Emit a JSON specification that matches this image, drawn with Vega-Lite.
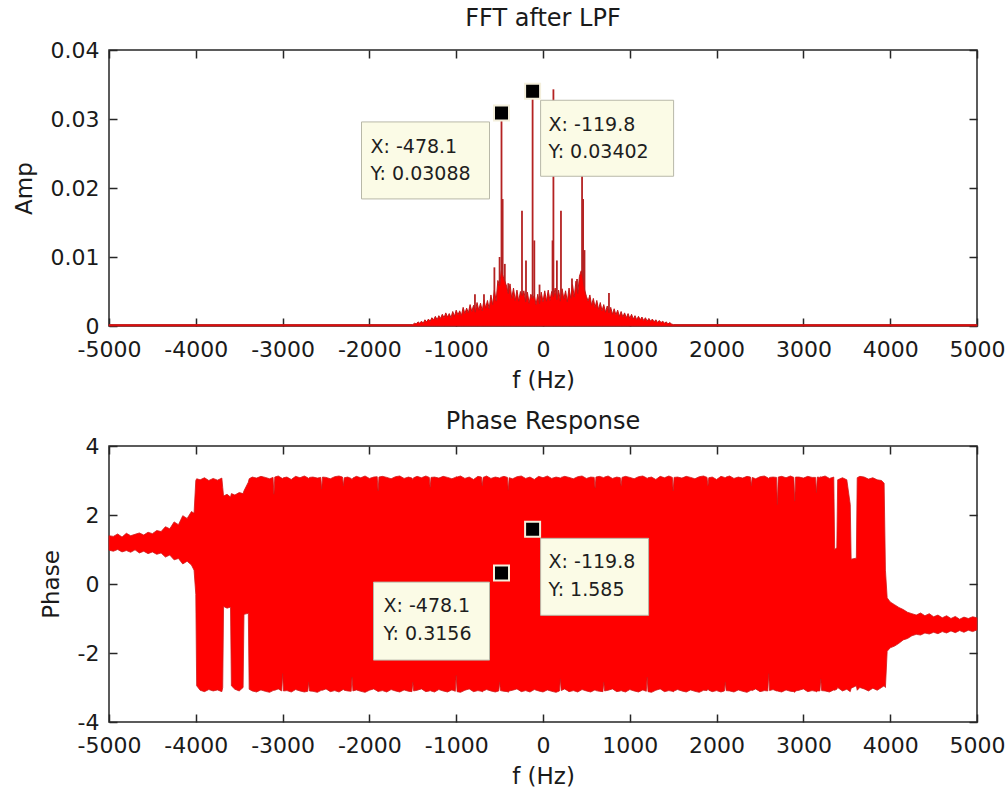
{
  "$schema": "https://vega.github.io/schema/vega-lite/v6.json",
  "padding": {"left": 12, "top": 6, "right": 4, "bottom": 0},
  "background": "white",
  "datasets": {
    "amp_env": [
      {"f": -5000, "amp": 0.0002}, {"f": -1500, "amp": 0.0002},
      {"f": -1480, "amp": 0.0004}, {"f": -1460, "amp": 0.0003}, {"f": -1440, "amp": 0.0006}, {"f": -1420, "amp": 0.0004},
      {"f": -1400, "amp": 0.0007}, {"f": -1380, "amp": 0.0004}, {"f": -1360, "amp": 0.0009}, {"f": -1340, "amp": 0.0006},
      {"f": -1320, "amp": 0.0010}, {"f": -1300, "amp": 0.0007}, {"f": -1280, "amp": 0.0012}, {"f": -1260, "amp": 0.0009},
      {"f": -1240, "amp": 0.0014}, {"f": -1220, "amp": 0.0009}, {"f": -1200, "amp": 0.0015}, {"f": -1180, "amp": 0.0011},
      {"f": -1160, "amp": 0.0017}, {"f": -1140, "amp": 0.0012}, {"f": -1120, "amp": 0.0019}, {"f": -1100, "amp": 0.0013},
      {"f": -1080, "amp": 0.0018}, {"f": -1060, "amp": 0.0012}, {"f": -1040, "amp": 0.0021}, {"f": -1020, "amp": 0.0014},
      {"f": -1000, "amp": 0.0023}, {"f": -980, "amp": 0.0016}, {"f": -960, "amp": 0.0022}, {"f": -940, "amp": 0.0015},
      {"f": -920, "amp": 0.0027}, {"f": -900, "amp": 0.0018}, {"f": -880, "amp": 0.0026}, {"f": -860, "amp": 0.0019},
      {"f": -840, "amp": 0.0031}, {"f": -820, "amp": 0.0021}, {"f": -800, "amp": 0.0030}, {"f": -780, "amp": 0.0020},
      {"f": -760, "amp": 0.0034}, {"f": -740, "amp": 0.0023}, {"f": -720, "amp": 0.0033}, {"f": -700, "amp": 0.0022},
      {"f": -680, "amp": 0.0038}, {"f": -660, "amp": 0.0026}, {"f": -640, "amp": 0.0037}, {"f": -620, "amp": 0.0025},
      {"f": -600, "amp": 0.0045}, {"f": -580, "amp": 0.0031}, {"f": -560, "amp": 0.0052}, {"f": -540, "amp": 0.0036},
      {"f": -520, "amp": 0.0066}, {"f": -500, "amp": 0.0058}, {"f": -480, "amp": 0.0080}, {"f": -460, "amp": 0.0072},
      {"f": -440, "amp": 0.0065}, {"f": -420, "amp": 0.0058}, {"f": -400, "amp": 0.0047}, {"f": -380, "amp": 0.0061},
      {"f": -360, "amp": 0.0040}, {"f": -340, "amp": 0.0055}, {"f": -320, "amp": 0.0037}, {"f": -300, "amp": 0.0052},
      {"f": -280, "amp": 0.0036}, {"f": -260, "amp": 0.0050}, {"f": -240, "amp": 0.0044}, {"f": -220, "amp": 0.0051},
      {"f": -200, "amp": 0.0035}, {"f": -180, "amp": 0.0049}, {"f": -160, "amp": 0.0033}, {"f": -140, "amp": 0.0046},
      {"f": -120, "amp": 0.0040}, {"f": -100, "amp": 0.0044}, {"f": -80, "amp": 0.0031}, {"f": -60, "amp": 0.0046},
      {"f": -40, "amp": 0.0032}, {"f": -20, "amp": 0.0049}, {"f": 0, "amp": 0.0035}, {"f": 20, "amp": 0.0051},
      {"f": 40, "amp": 0.0036}, {"f": 60, "amp": 0.0052}, {"f": 80, "amp": 0.0037}, {"f": 100, "amp": 0.0050},
      {"f": 120, "amp": 0.0042}, {"f": 140, "amp": 0.0055}, {"f": 160, "amp": 0.0038}, {"f": 180, "amp": 0.0052},
      {"f": 200, "amp": 0.0036}, {"f": 220, "amp": 0.0054}, {"f": 240, "amp": 0.0039}, {"f": 260, "amp": 0.0051},
      {"f": 280, "amp": 0.0035}, {"f": 300, "amp": 0.0055}, {"f": 320, "amp": 0.0040}, {"f": 340, "amp": 0.0060},
      {"f": 360, "amp": 0.0042}, {"f": 380, "amp": 0.0065}, {"f": 400, "amp": 0.0047}, {"f": 420, "amp": 0.0072},
      {"f": 440, "amp": 0.0080}, {"f": 460, "amp": 0.0068}, {"f": 480, "amp": 0.0052}, {"f": 500, "amp": 0.0043},
      {"f": 520, "amp": 0.0036}, {"f": 540, "amp": 0.0045}, {"f": 560, "amp": 0.0030}, {"f": 580, "amp": 0.0040},
      {"f": 600, "amp": 0.0027}, {"f": 620, "amp": 0.0037}, {"f": 640, "amp": 0.0024}, {"f": 660, "amp": 0.0034},
      {"f": 680, "amp": 0.0022}, {"f": 700, "amp": 0.0031}, {"f": 720, "amp": 0.0020}, {"f": 740, "amp": 0.0029},
      {"f": 760, "amp": 0.0019}, {"f": 780, "amp": 0.0027}, {"f": 800, "amp": 0.0017}, {"f": 820, "amp": 0.0025},
      {"f": 840, "amp": 0.0016}, {"f": 860, "amp": 0.0023}, {"f": 880, "amp": 0.0014}, {"f": 900, "amp": 0.0021},
      {"f": 920, "amp": 0.0013}, {"f": 940, "amp": 0.0019}, {"f": 960, "amp": 0.0012}, {"f": 980, "amp": 0.0018},
      {"f": 1000, "amp": 0.0011}, {"f": 1020, "amp": 0.0017}, {"f": 1040, "amp": 0.0010}, {"f": 1060, "amp": 0.0015},
      {"f": 1080, "amp": 0.0009}, {"f": 1100, "amp": 0.0014}, {"f": 1120, "amp": 0.0009}, {"f": 1140, "amp": 0.0013},
      {"f": 1160, "amp": 0.0008}, {"f": 1180, "amp": 0.0012}, {"f": 1200, "amp": 0.0007}, {"f": 1220, "amp": 0.0011},
      {"f": 1240, "amp": 0.0007}, {"f": 1260, "amp": 0.0010}, {"f": 1280, "amp": 0.0006}, {"f": 1300, "amp": 0.0009},
      {"f": 1320, "amp": 0.0005}, {"f": 1340, "amp": 0.0008}, {"f": 1360, "amp": 0.0005}, {"f": 1380, "amp": 0.0007},
      {"f": 1400, "amp": 0.0004}, {"f": 1420, "amp": 0.0006}, {"f": 1440, "amp": 0.0003}, {"f": 1460, "amp": 0.0005},
      {"f": 1480, "amp": 0.0003}, {"f": 1500, "amp": 0.0002}, {"f": 5000, "amp": 0.0002}
    ],
    "amp_peaks": [
      {"f": -784, "amp": 0.0046}, {"f": -680, "amp": 0.0046}, {"f": -560, "amp": 0.0085},
      {"f": -500, "amp": 0.0100}, {"f": -478.1, "amp": 0.03088}, {"f": -465, "amp": 0.0184},
      {"f": -440, "amp": 0.0090}, {"f": -400, "amp": 0.0062}, {"f": -242, "amp": 0.0167},
      {"f": -196, "amp": 0.0095}, {"f": -119.8, "amp": 0.03402}, {"f": -100, "amp": 0.0124},
      {"f": -40, "amp": 0.0060}, {"f": 110, "amp": 0.0124}, {"f": 120, "amp": 0.0343},
      {"f": 160, "amp": 0.0095}, {"f": 207, "amp": 0.0167}, {"f": 334, "amp": 0.0069},
      {"f": 392, "amp": 0.0068}, {"f": 450, "amp": 0.0225}, {"f": 462, "amp": 0.0184},
      {"f": 478, "amp": 0.0110}, {"f": 760, "amp": 0.0048}
    ],
    "amp_tips": [
      {"f": -478.1, "amp": 0.03088, "label": ["X: -478.1", "Y: 0.03088"]},
      {"f": -119.8, "amp": 0.03402, "label": ["X: -119.8", "Y: 0.03402"]}
    ],
    "phase": [
      {"f": -5000, "lo": 0.98, "hi": 1.40}, {"f": -4950, "lo": 0.95, "hi": 1.38}, {"f": -4900, "lo": 1.00, "hi": 1.45},
      {"f": -4850, "lo": 0.93, "hi": 1.36}, {"f": -4800, "lo": 0.97, "hi": 1.47}, {"f": -4750, "lo": 0.92, "hi": 1.40},
      {"f": -4700, "lo": 0.99, "hi": 1.44}, {"f": -4650, "lo": 0.90, "hi": 1.48}, {"f": -4600, "lo": 0.95, "hi": 1.42},
      {"f": -4550, "lo": 0.88, "hi": 1.50}, {"f": -4500, "lo": 0.93, "hi": 1.46}, {"f": -4450, "lo": 0.86, "hi": 1.55},
      {"f": -4400, "lo": 0.90, "hi": 1.52}, {"f": -4350, "lo": 0.78, "hi": 1.66}, {"f": -4300, "lo": 0.84, "hi": 1.60},
      {"f": -4250, "lo": 0.70, "hi": 1.80}, {"f": -4200, "lo": 0.74, "hi": 1.72}, {"f": -4150, "lo": 0.58, "hi": 1.98},
      {"f": -4100, "lo": 0.66, "hi": 1.90}, {"f": -4050, "lo": 0.55, "hi": 2.10}, {"f": -4020, "lo": 0.40, "hi": 2.05},
      {"f": -4000, "lo": -0.30, "hi": 3.00}, {"f": -3990, "lo": -2.95, "hi": 3.05}, {"f": -3950, "lo": -3.08, "hi": 3.02},
      {"f": -3900, "lo": -3.12, "hi": 3.08}, {"f": -3850, "lo": -3.06, "hi": 3.00}, {"f": -3800, "lo": -3.10, "hi": 3.06},
      {"f": -3750, "lo": -3.07, "hi": 3.01}, {"f": -3700, "lo": -3.12, "hi": 3.07}, {"f": -3690, "lo": -3.00, "hi": 2.80},
      {"f": -3680, "lo": -0.65, "hi": 2.55}, {"f": -3640, "lo": -0.70, "hi": 2.60}, {"f": -3600, "lo": -0.67, "hi": 2.52},
      {"f": -3590, "lo": -2.95, "hi": 2.62}, {"f": -3550, "lo": -3.05, "hi": 2.58}, {"f": -3500, "lo": -3.10, "hi": 2.65},
      {"f": -3455, "lo": -3.00, "hi": 2.62}, {"f": -3445, "lo": -0.88, "hi": 2.70}, {"f": -3395, "lo": -0.85, "hi": 2.95},
      {"f": -3385, "lo": -3.05, "hi": 3.05},
      {"f": -3350, "lo": -3.10, "hi": 3.10}, {"f": -3300, "lo": -3.13, "hi": 3.07}, {"f": -3250, "lo": -3.07, "hi": 3.12},
      {"f": -3200, "lo": -3.11, "hi": 3.09}, {"f": -3150, "lo": -3.14, "hi": 3.05}, {"f": -3110, "lo": -3.09, "hi": 3.09},
      {"f": -3100, "lo": -3.08, "hi": 2.60}, {"f": -3090, "lo": -3.08, "hi": 3.10}, {"f": -3050, "lo": -3.04, "hi": 3.13},
      {"f": -3010, "lo": -3.10, "hi": 3.07}, {"f": -3000, "lo": -2.60, "hi": 3.06}, {"f": -2990, "lo": -3.10, "hi": 3.08},
      {"f": -2950, "lo": -3.09, "hi": 3.10}, {"f": -2900, "lo": -3.13, "hi": 3.03}, {"f": -2850, "lo": -3.06, "hi": 3.12},
      {"f": -2800, "lo": -3.10, "hi": 3.08}, {"f": -2750, "lo": -3.13, "hi": 3.13}, {"f": -2710, "lo": -3.11, "hi": 3.08},
      {"f": -2700, "lo": -2.85, "hi": 3.06}, {"f": -2690, "lo": -3.10, "hi": 3.09}, {"f": -2650, "lo": -3.11, "hi": 3.10},
      {"f": -2600, "lo": -3.14, "hi": 3.07}, {"f": -2560, "lo": -3.09, "hi": 3.09}, {"f": -2550, "lo": -3.08, "hi": 2.75},
      {"f": -2540, "lo": -3.08, "hi": 3.10}, {"f": -2500, "lo": -3.04, "hi": 3.09}, {"f": -2450, "lo": -3.12, "hi": 3.05},
      {"f": -2400, "lo": -3.09, "hi": 3.11}, {"f": -2350, "lo": -3.13, "hi": 3.13}, {"f": -2310, "lo": -3.07, "hi": 3.10},
      {"f": -2300, "lo": -3.06, "hi": 2.85}, {"f": -2290, "lo": -3.08, "hi": 3.08}, {"f": -2250, "lo": -3.10, "hi": 3.10},
      {"f": -2210, "lo": -3.11, "hi": 3.06}, {"f": -2200, "lo": -2.70, "hi": 3.03}, {"f": -2190, "lo": -3.10, "hi": 3.07},
      {"f": -2150, "lo": -3.07, "hi": 3.12}, {"f": -2100, "lo": -3.11, "hi": 3.08}, {"f": -2050, "lo": -3.14, "hi": 3.13},
      {"f": -2000, "lo": -3.08, "hi": 3.06}, {"f": -1950, "lo": -3.04, "hi": 3.10}, {"f": -1910, "lo": -3.10, "hi": 3.11},
      {"f": -1900, "lo": -3.12, "hi": 2.70}, {"f": -1890, "lo": -3.11, "hi": 3.10}, {"f": -1850, "lo": -3.09, "hi": 3.12},
      {"f": -1800, "lo": -3.13, "hi": 3.09}, {"f": -1750, "lo": -3.06, "hi": 3.05}, {"f": -1700, "lo": -3.10, "hi": 3.11},
      {"f": -1650, "lo": -3.13, "hi": 3.13}, {"f": -1600, "lo": -3.07, "hi": 3.06}, {"f": -1550, "lo": -3.11, "hi": 3.10},
      {"f": -1510, "lo": -3.12, "hi": 3.07}, {"f": -1500, "lo": -2.85, "hi": 3.03}, {"f": -1490, "lo": -3.10, "hi": 3.08},
      {"f": -1450, "lo": -3.08, "hi": 3.12}, {"f": -1400, "lo": -3.04, "hi": 3.08}, {"f": -1350, "lo": -3.12, "hi": 3.13},
      {"f": -1310, "lo": -3.10, "hi": 3.09}, {"f": -1300, "lo": -3.09, "hi": 2.80}, {"f": -1290, "lo": -3.10, "hi": 3.09},
      {"f": -1250, "lo": -3.13, "hi": 3.10}, {"f": -1200, "lo": -3.06, "hi": 3.07}, {"f": -1150, "lo": -3.10, "hi": 3.12},
      {"f": -1100, "lo": -3.13, "hi": 3.09}, {"f": -1050, "lo": -3.07, "hi": 3.05}, {"f": -1010, "lo": -3.11, "hi": 3.09},
      {"f": -1000, "lo": -2.65, "hi": 3.11}, {"f": -990, "lo": -3.12, "hi": 3.10}, {"f": -950, "lo": -3.14, "hi": 3.13},
      {"f": -900, "lo": -3.08, "hi": 3.06}, {"f": -850, "lo": -3.04, "hi": 3.10}, {"f": -800, "lo": -3.12, "hi": 3.03},
      {"f": -750, "lo": -3.09, "hi": 3.12}, {"f": -710, "lo": -3.11, "hi": 3.10}, {"f": -700, "lo": -3.13, "hi": 2.85},
      {"f": -690, "lo": -3.10, "hi": 3.09}, {"f": -650, "lo": -3.06, "hi": 3.13}, {"f": -600, "lo": -3.10, "hi": 3.06},
      {"f": -550, "lo": -3.13, "hi": 3.10}, {"f": -510, "lo": -3.10, "hi": 3.08}, {"f": -500, "lo": -2.85, "hi": 3.07},
      {"f": -490, "lo": -3.09, "hi": 3.09}, {"f": -450, "lo": -3.11, "hi": 3.12}, {"f": -410, "lo": -3.12, "hi": 3.09},
      {"f": -400, "lo": -3.14, "hi": 2.72}, {"f": -390, "lo": -3.10, "hi": 3.08}, {"f": -350, "lo": -3.08, "hi": 3.05},
      {"f": -300, "lo": -3.04, "hi": 3.11}, {"f": -250, "lo": -3.12, "hi": 3.13}, {"f": -200, "lo": -3.09, "hi": 3.06},
      {"f": -150, "lo": -3.13, "hi": 3.10}, {"f": -100, "lo": -3.06, "hi": 3.03}, {"f": -50, "lo": -3.10, "hi": 3.12},
      {"f": 0, "lo": -3.13, "hi": 3.08}, {"f": 50, "lo": -3.07, "hi": 3.13}, {"f": 100, "lo": -3.11, "hi": 3.06},
      {"f": 150, "lo": -3.14, "hi": 3.10}, {"f": 190, "lo": -3.10, "hi": 3.08}, {"f": 200, "lo": -2.75, "hi": 3.07},
      {"f": 210, "lo": -3.09, "hi": 3.09}, {"f": 250, "lo": -3.04, "hi": 3.12}, {"f": 300, "lo": -3.12, "hi": 3.09},
      {"f": 350, "lo": -3.09, "hi": 3.05}, {"f": 400, "lo": -3.13, "hi": 3.11}, {"f": 450, "lo": -3.06, "hi": 3.13},
      {"f": 500, "lo": -3.10, "hi": 3.06}, {"f": 550, "lo": -3.13, "hi": 3.10}, {"f": 590, "lo": -3.08, "hi": 3.09},
      {"f": 600, "lo": -3.07, "hi": 2.78}, {"f": 610, "lo": -3.09, "hi": 3.10}, {"f": 650, "lo": -3.11, "hi": 3.12},
      {"f": 690, "lo": -3.12, "hi": 3.09}, {"f": 700, "lo": -2.85, "hi": 3.08}, {"f": 710, "lo": -3.10, "hi": 3.10},
      {"f": 750, "lo": -3.08, "hi": 3.13}, {"f": 800, "lo": -3.04, "hi": 3.06}, {"f": 850, "lo": -3.12, "hi": 3.10},
      {"f": 890, "lo": -3.10, "hi": 3.08}, {"f": 900, "lo": -3.09, "hi": 2.85}, {"f": 910, "lo": -3.10, "hi": 3.09},
      {"f": 950, "lo": -3.13, "hi": 3.12}, {"f": 1000, "lo": -3.06, "hi": 3.09}, {"f": 1050, "lo": -3.10, "hi": 3.05},
      {"f": 1100, "lo": -3.13, "hi": 3.11}, {"f": 1150, "lo": -3.07, "hi": 3.13}, {"f": 1190, "lo": -3.11, "hi": 3.08},
      {"f": 1200, "lo": -2.70, "hi": 3.06}, {"f": 1210, "lo": -3.12, "hi": 3.08}, {"f": 1250, "lo": -3.14, "hi": 3.10},
      {"f": 1300, "lo": -3.08, "hi": 3.03}, {"f": 1350, "lo": -3.04, "hi": 3.12}, {"f": 1400, "lo": -3.12, "hi": 3.08},
      {"f": 1450, "lo": -3.09, "hi": 3.13}, {"f": 1490, "lo": -3.11, "hi": 3.09}, {"f": 1500, "lo": -3.13, "hi": 2.70},
      {"f": 1510, "lo": -3.10, "hi": 3.09}, {"f": 1550, "lo": -3.06, "hi": 3.10}, {"f": 1600, "lo": -3.10, "hi": 3.07},
      {"f": 1650, "lo": -3.13, "hi": 3.12}, {"f": 1700, "lo": -3.07, "hi": 3.09}, {"f": 1750, "lo": -3.11, "hi": 3.05},
      {"f": 1800, "lo": -3.14, "hi": 3.11}, {"f": 1850, "lo": -3.08, "hi": 3.13}, {"f": 1890, "lo": -3.09, "hi": 3.09},
      {"f": 1900, "lo": -3.04, "hi": 2.85}, {"f": 1910, "lo": -3.08, "hi": 3.08}, {"f": 1950, "lo": -3.12, "hi": 3.10},
      {"f": 2000, "lo": -3.09, "hi": 3.03}, {"f": 2050, "lo": -3.13, "hi": 3.12}, {"f": 2090, "lo": -3.10, "hi": 3.09},
      {"f": 2100, "lo": -2.85, "hi": 3.08}, {"f": 2110, "lo": -3.09, "hi": 3.10}, {"f": 2150, "lo": -3.10, "hi": 3.13},
      {"f": 2200, "lo": -3.13, "hi": 3.06}, {"f": 2250, "lo": -3.07, "hi": 3.10}, {"f": 2300, "lo": -3.11, "hi": 3.07},
      {"f": 2350, "lo": -3.14, "hi": 3.12}, {"f": 2390, "lo": -3.09, "hi": 3.10}, {"f": 2400, "lo": -3.08, "hi": 2.85},
      {"f": 2410, "lo": -3.09, "hi": 3.09}, {"f": 2450, "lo": -3.04, "hi": 3.05}, {"f": 2500, "lo": -3.12, "hi": 3.11},
      {"f": 2550, "lo": -3.09, "hi": 3.13}, {"f": 2590, "lo": -3.10, "hi": 3.08}, {"f": 2600, "lo": -2.60, "hi": 3.06},
      {"f": 2610, "lo": -3.09, "hi": 3.09}, {"f": 2650, "lo": -3.06, "hi": 3.10}, {"f": 2690, "lo": -3.10, "hi": 3.09},
      {"f": 2700, "lo": -3.10, "hi": 2.30}, {"f": 2710, "lo": -3.11, "hi": 3.10}, {"f": 2750, "lo": -3.13, "hi": 3.12},
      {"f": 2800, "lo": -3.07, "hi": 3.08}, {"f": 2850, "lo": -3.11, "hi": 3.13}, {"f": 2890, "lo": -3.12, "hi": 3.09},
      {"f": 2900, "lo": -3.14, "hi": 2.40}, {"f": 2910, "lo": -3.10, "hi": 3.10}, {"f": 2950, "lo": -3.08, "hi": 3.10},
      {"f": 3000, "lo": -3.04, "hi": 3.07}, {"f": 3050, "lo": -3.12, "hi": 3.12}, {"f": 3100, "lo": -3.09, "hi": 3.09},
      {"f": 3140, "lo": -3.11, "hi": 3.09}, {"f": 3150, "lo": -3.13, "hi": 2.65}, {"f": 3160, "lo": -3.10, "hi": 3.10},
      {"f": 3190, "lo": -3.10, "hi": 3.09}, {"f": 3200, "lo": -2.75, "hi": 3.11}, {"f": 3210, "lo": -3.09, "hi": 3.10},
      {"f": 3250, "lo": -3.10, "hi": 3.13}, {"f": 3300, "lo": -3.13, "hi": 3.06}, {"f": 3350, "lo": -3.07, "hi": 3.10},
      {"f": 3360, "lo": -3.08, "hi": 1.00}, {"f": 3385, "lo": -3.05, "hi": 1.05}, {"f": 3395, "lo": -3.00, "hi": 3.02},
      {"f": 3450, "lo": -3.10, "hi": 3.08}, {"f": 3500, "lo": -3.05, "hi": 3.02}, {"f": 3540, "lo": -3.12, "hi": 2.30},
      {"f": 3550, "lo": -3.02, "hi": 0.72}, {"f": 3610, "lo": -2.95, "hi": 0.75}, {"f": 3620, "lo": -3.08, "hi": 3.08},
      {"f": 3650, "lo": -3.00, "hi": 3.12}, {"f": 3700, "lo": -3.04, "hi": 3.10}, {"f": 3750, "lo": -3.10, "hi": 3.04},
      {"f": 3800, "lo": -3.02, "hi": 3.08}, {"f": 3850, "lo": -3.08, "hi": 3.02}, {"f": 3900, "lo": -3.00, "hi": 3.00},
      {"f": 3930, "lo": -2.95, "hi": 2.92}, {"f": 3945, "lo": -3.00, "hi": 0.40}, {"f": 3965, "lo": -1.95, "hi": -0.40},
      {"f": 4000, "lo": -1.85, "hi": -0.52}, {"f": 4050, "lo": -1.80, "hi": -0.60}, {"f": 4100, "lo": -1.72, "hi": -0.68},
      {"f": 4150, "lo": -1.62, "hi": -0.74}, {"f": 4200, "lo": -1.58, "hi": -0.82}, {"f": 4250, "lo": -1.50, "hi": -0.86},
      {"f": 4300, "lo": -1.46, "hi": -0.90}, {"f": 4350, "lo": -1.48, "hi": -0.84}, {"f": 4400, "lo": -1.42, "hi": -0.92},
      {"f": 4450, "lo": -1.45, "hi": -0.86}, {"f": 4500, "lo": -1.40, "hi": -0.95}, {"f": 4550, "lo": -1.44, "hi": -0.90},
      {"f": 4600, "lo": -1.38, "hi": -0.98}, {"f": 4650, "lo": -1.42, "hi": -0.92}, {"f": 4700, "lo": -1.36, "hi": -1.00},
      {"f": 4750, "lo": -1.41, "hi": -0.94}, {"f": 4800, "lo": -1.35, "hi": -1.02}, {"f": 4850, "lo": -1.40, "hi": -0.96},
      {"f": 4900, "lo": -1.34, "hi": -1.00}, {"f": 4950, "lo": -1.38, "hi": -0.95}, {"f": 5000, "lo": -1.33, "hi": -0.98}
    ],
    "phase_tips": [
      {"f": -478.1, "phase": 0.3156, "label": ["X: -478.1", "Y: 0.3156"]},
      {"f": -119.8, "phase": 1.585, "label": ["X: -119.8", "Y: 1.585"]}
    ]
  },
  "vconcat": [
    {
      "title": {"text": "FFT after LPF", "offset": 8},
      "width": 868,
      "height": 276,
      "resolve": {"axis": {"x": "independent", "y": "independent"}},
      "layer": [
        {
          "data": {"name": "amp_peaks"},
          "mark": {"type": "rule", "color": "#b42222", "strokeWidth": 1.8},
          "encoding": {
            "x": {"field": "f", "type": "quantitative", "scale": {"domain": [-5000, 5000], "nice": false},
                  "axis": {"orient": "bottom", "title": "f (Hz)", "values": [-5000, -4000, -3000, -2000, -1000, 0, 1000, 2000, 3000, 4000, 5000]}},
            "y": {"field": "amp", "type": "quantitative", "scale": {"domain": [0, 0.04], "nice": false},
                  "axis": {"orient": "left", "title": "Amp", "values": [0, 0.01, 0.02, 0.03, 0.04]}},
            "y2": {"datum": 0}
          }
        },
        {
          "data": {"name": "amp_env"},
          "mark": {"type": "area", "color": "#ff0000", "stroke": "#c01818", "strokeWidth": 1},
          "encoding": {
            "x": {"field": "f", "type": "quantitative",
                  "axis": {"orient": "top", "title": null, "labels": false, "values": [-5000, -4000, -3000, -2000, -1000, 0, 1000, 2000, 3000, 4000, 5000]}},
            "y": {"field": "amp", "type": "quantitative",
                  "axis": {"orient": "right", "title": null, "labels": false, "values": [0, 0.01, 0.02, 0.03, 0.04]}}
          }
        },
        {
          "data": {"name": "amp_tips"},
          "transform": [{"filter": "datum.f < -300"}],
          "mark": {"type": "rect", "fill": "#fbfbe6", "stroke": "#b8b8a8", "strokeWidth": 1,
                   "xOffset": -140, "x2Offset": -12, "yOffset": 9, "y2Offset": 86},
          "encoding": {
            "x": {"field": "f", "type": "quantitative", "axis": null},
            "x2": {"field": "f"},
            "y": {"field": "amp", "type": "quantitative", "axis": null},
            "y2": {"field": "amp"}
          }
        },
        {
          "data": {"name": "amp_tips"},
          "transform": [{"filter": "datum.f > -300"}],
          "mark": {"type": "rect", "fill": "#fbfbe6", "stroke": "#b8b8a8", "strokeWidth": 1,
                   "xOffset": 8, "x2Offset": 141, "yOffset": 9, "y2Offset": 85},
          "encoding": {
            "x": {"field": "f", "type": "quantitative", "axis": null},
            "x2": {"field": "f"},
            "y": {"field": "amp", "type": "quantitative", "axis": null},
            "y2": {"field": "amp"}
          }
        },
        {
          "data": {"name": "amp_tips"},
          "transform": [{"filter": "datum.f < -300"}],
          "mark": {"type": "text", "align": "left", "baseline": "alphabetic", "dx": -131, "dy": 40,
                   "fontSize": 19, "lineHeight": 27, "color": "#1e1e1e"},
          "encoding": {
            "x": {"field": "f", "type": "quantitative", "axis": null},
            "y": {"field": "amp", "type": "quantitative", "axis": null},
            "text": {"field": "label"}
          }
        },
        {
          "data": {"name": "amp_tips"},
          "transform": [{"filter": "datum.f > -300"}],
          "mark": {"type": "text", "align": "left", "baseline": "alphabetic", "dx": 16, "dy": 40,
                   "fontSize": 19, "lineHeight": 27, "color": "#1e1e1e"},
          "encoding": {
            "x": {"field": "f", "type": "quantitative", "axis": null},
            "y": {"field": "amp", "type": "quantitative", "axis": null},
            "text": {"field": "label"}
          }
        },
        {
          "data": {"name": "amp_tips"},
          "mark": {"type": "point", "shape": "square", "filled": true, "fill": "#000000", "stroke": "#f4efdc",
                   "strokeWidth": 2, "size": 225, "opacity": 1},
          "encoding": {
            "x": {"field": "f", "type": "quantitative", "axis": null},
            "y": {"field": "amp", "type": "quantitative", "axis": null}
          }
        }
      ]
    },
    {
      "title": {"text": "Phase Response", "offset": 1},
      "width": 868,
      "height": 276,
      "resolve": {"axis": {"x": "independent", "y": "independent"}},
      "layer": [
        {
          "data": {"name": "phase"},
          "mark": {"type": "area", "color": "#ff0000", "stroke": "#d01818", "strokeWidth": 0.8},
          "encoding": {
            "x": {"field": "f", "type": "quantitative", "scale": {"domain": [-5000, 5000], "nice": false},
                  "axis": {"orient": "bottom", "title": "f (Hz)", "values": [-5000, -4000, -3000, -2000, -1000, 0, 1000, 2000, 3000, 4000, 5000]}},
            "y": {"field": "hi", "type": "quantitative", "scale": {"domain": [-4, 4], "nice": false},
                  "axis": {"orient": "left", "title": "Phase", "values": [-4, -2, 0, 2, 4]}},
            "y2": {"field": "lo"}
          }
        },
        {
          "data": {"name": "phase_tips"},
          "mark": {"type": "point", "opacity": 0},
          "encoding": {
            "x": {"field": "f", "type": "quantitative",
                  "axis": {"orient": "top", "title": null, "labels": false, "values": [-5000, -4000, -3000, -2000, -1000, 0, 1000, 2000, 3000, 4000, 5000]}},
            "y": {"field": "phase", "type": "quantitative",
                  "axis": {"orient": "right", "title": null, "labels": false, "values": [-4, -2, 0, 2, 4]}}
          }
        },
        {
          "data": {"name": "phase_tips"},
          "transform": [{"filter": "datum.f < -300"}],
          "mark": {"type": "rect", "fill": "#fbfbe6", "stroke": "#b8b8a8", "strokeWidth": 1,
                   "xOffset": -128, "x2Offset": -12, "yOffset": 9, "y2Offset": 87},
          "encoding": {
            "x": {"field": "f", "type": "quantitative", "axis": null},
            "x2": {"field": "f"},
            "y": {"field": "phase", "type": "quantitative", "axis": null},
            "y2": {"field": "phase"}
          }
        },
        {
          "data": {"name": "phase_tips"},
          "transform": [{"filter": "datum.f > -300"}],
          "mark": {"type": "rect", "fill": "#fbfbe6", "stroke": "#b8b8a8", "strokeWidth": 1,
                   "xOffset": 8, "x2Offset": 116, "yOffset": 9, "y2Offset": 86},
          "encoding": {
            "x": {"field": "f", "type": "quantitative", "axis": null},
            "x2": {"field": "f"},
            "y": {"field": "phase", "type": "quantitative", "axis": null},
            "y2": {"field": "phase"}
          }
        },
        {
          "data": {"name": "phase_tips"},
          "transform": [{"filter": "datum.f < -300"}],
          "mark": {"type": "text", "align": "left", "baseline": "alphabetic", "dx": -118, "dy": 39,
                   "fontSize": 19, "lineHeight": 28, "color": "#1e1e1e"},
          "encoding": {
            "x": {"field": "f", "type": "quantitative", "axis": null},
            "y": {"field": "phase", "type": "quantitative", "axis": null},
            "text": {"field": "label"}
          }
        },
        {
          "data": {"name": "phase_tips"},
          "transform": [{"filter": "datum.f > -300"}],
          "mark": {"type": "text", "align": "left", "baseline": "alphabetic", "dx": 16, "dy": 39,
                   "fontSize": 19, "lineHeight": 28, "color": "#1e1e1e"},
          "encoding": {
            "x": {"field": "f", "type": "quantitative", "axis": null},
            "y": {"field": "phase", "type": "quantitative", "axis": null},
            "text": {"field": "label"}
          }
        },
        {
          "data": {"name": "phase_tips"},
          "mark": {"type": "point", "shape": "square", "filled": true, "fill": "#000000", "stroke": "#f4efdc",
                   "strokeWidth": 2, "size": 225, "opacity": 1},
          "encoding": {
            "x": {"field": "f", "type": "quantitative", "axis": null},
            "y": {"field": "phase", "type": "quantitative", "axis": null}
          }
        }
      ]
    }
  ],
  "spacing": 16,
  "config": {
    "font": "DejaVu Sans",
    "view": {"stroke": "#262626", "strokeWidth": 1.5},
    "axis": {
      "grid": false,
      "domain": false,
      "tickSize": -8,
      "tickColor": "#262626",
      "tickWidth": 1.5,
      "labelFont": "DejaVu Sans",
      "labelFontSize": 22,
      "labelColor": "#1a1a1a",
      "labelPadding": 18,
      "labelFlush": false,
      "labelOverlap": false,
      "labelExpr": "'' + datum.value",
      "titleFont": "DejaVu Sans",
      "titleFontSize": 23,
      "titleFontWeight": "normal",
      "titleColor": "#1a1a1a",
      "titlePadding": 9,
      "zindex": 1
    },
    "axisX": {"labelPadding": 21},
    "axisY": {"titlePadding": 14},
    "title": {"fontSize": 24, "fontWeight": "normal", "color": "#1a1a1a"}
  }
}
